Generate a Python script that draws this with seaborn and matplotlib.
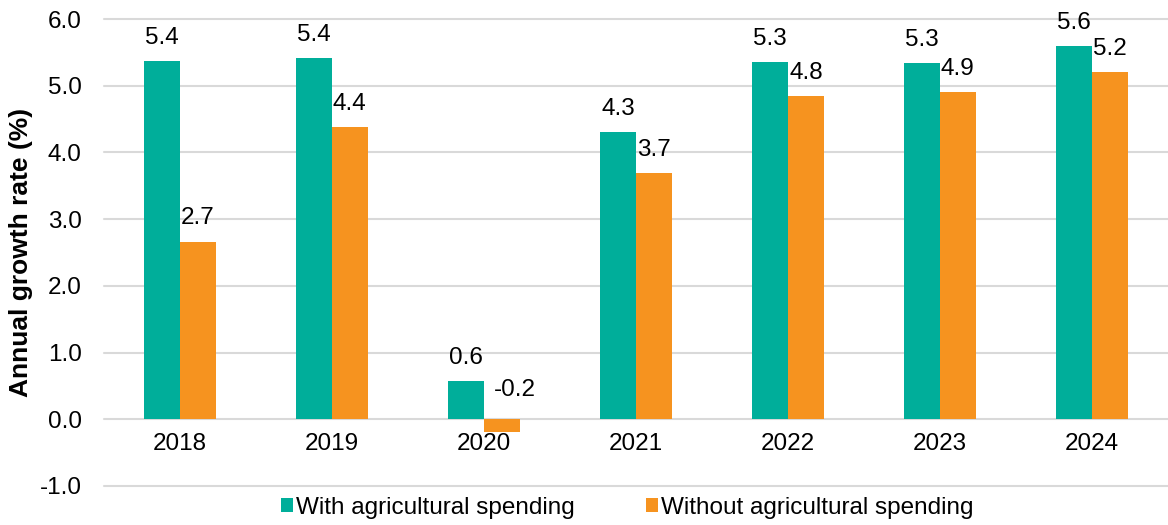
import matplotlib
matplotlib.use("Agg")
import matplotlib.pyplot as plt
import seaborn as sns
import pandas as pd

years = ["2018", "2019", "2020", "2021", "2022", "2023", "2024"]
with_agri = [5.37, 5.41, 0.57, 4.30, 5.35, 5.34, 5.59]
without_agri = [2.66, 4.38, -0.19, 3.69, 4.84, 4.90, 5.20]
series_names = ["With agricultural spending", "Without agricultural spending"]
colors = ["#00AE9A", "#F6931F"]

df = pd.DataFrame({
    "year": years * 2,
    "growth": with_agri + without_agri,
    "series": [series_names[0]] * len(years) + [series_names[1]] * len(years),
})

sns.set_theme(style="white")
plt.rcParams["font.family"] = ["Liberation Sans", "DejaVu Sans"]
plt.rcParams["text.color"] = "#000000"
plt.rcParams["axes.labelcolor"] = "#000000"

FS = 17.5

fig = plt.figure(figsize=(11.68, 5.25), dpi=100)
ax = fig.add_axes([104 / 1168, 39 / 525, 1 - 104 / 1168, 467 / 525])

sns.barplot(data=df, x="year", y="growth", hue="series", order=years,
            hue_order=series_names, palette=colors, width=0.47,
            saturation=1, linewidth=0, ax=ax, legend=True)

ax.set_xlim(-0.5, 6.5)
ax.set_ylim(-1.0, 6.0)
ax.set_yticks([-1, 0, 1, 2, 3, 4, 5, 6])
ax.set_yticklabels([f"{v:.1f}" for v in ax.get_yticks()], fontsize=FS)
ax.yaxis.grid(True, color="#D9D9D9", linewidth=1.5)
ax.set_axisbelow(True)
for g in ax.get_ygridlines():
    g.set_clip_on(False)
for s in ["top", "right", "left"]:
    ax.spines[s].set_visible(False)
ax.spines["bottom"].set_position(("data", 0))
ax.spines["bottom"].set_visible(False)
ax.tick_params(axis="x", length=0, pad=10, labelsize=FS, colors="#000000")
ax.tick_params(axis="y", length=0, pad=16, colors="#000000")
ax.set_xlabel("")
ax.set_ylabel("Annual growth rate (%)", fontsize=19, fontweight="bold",
              color="#000000")
ax.yaxis.set_label_coords(-0.0667, 0.5)

# value labels above each bar (next to the baseline for negative values)
for container in ax.containers:
    for bar in container:
        v = bar.get_height()
        x = bar.get_x() + bar.get_width() / 2
        y = max(v, 0)
        off = (0, 12.5) if v >= 0 else (9.5, 16.5)
        ax.annotate(f"{v:.1f}", (x, y), xytext=off,
                    textcoords="offset points", ha="center", va="baseline",
                    fontsize=FS, color="#000000")

handles, labels = ax.get_legend_handles_labels()
ax.legend_.remove()
fig.legend(handles, labels, loc="center", bbox_to_anchor=(0.537, 0.0324),
           ncol=2, frameon=False, fontsize=FS, handlelength=0.5,
           handleheight=0.5, handletextpad=0.15, columnspacing=2.9,
           borderpad=0, borderaxespad=0, labelcolor="#000000")

fig.savefig("out.png", dpi=100)
